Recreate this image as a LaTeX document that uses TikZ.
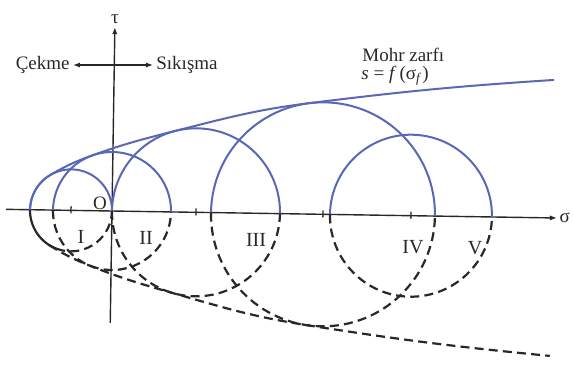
\documentclass[tikz,border=0pt]{standalone}
\usepackage{fontspec}
\setmainfont{Liberation Serif}
\usetikzlibrary{arrows.meta,calc}
\definecolor{mohrblue}{RGB}{88,104,180}
\definecolor{inkgray}{RGB}{40,40,40}
\begin{document}
\begin{tikzpicture}[
x=0.5pt,y=0.5pt,
font=\fontsize{9.5}{11}\selectfont,
every node/.style={text=inkgray},
axis/.style={draw=inkgray,line width=0.7pt},
arrowend/.style={-{Latex[length=3.5pt,width=2.6pt]}},
arrowboth/.style={{Latex[length=3.5pt,width=2.6pt]}-{Latex[length=3.5pt,width=2.6pt]}},
upperhalf/.style={draw=mohrblue,line width=1pt},
nosehalf/.style={draw=inkgray,line width=1.1pt},
lowerhalf/.style={draw=inkgray,line width=1.1pt,dash pattern=on 4.5pt off 2.6pt},
numeral/.style={inner sep=0pt,font=\fontsize{10}{12}\selectfont},]
\useasboundingbox (-112,-154) rectangle (461,211);
\begin{scope}[rotate=-0.9]
% axes
\coordinate (O) at (0,0);
\coordinate (sleft) at (-106,0);
\coordinate (sright) at (445,0);
\coordinate (tbot) at (0,-112);
\coordinate (ttop) at (0,184);
\draw[axis,arrowend] (sleft) -- (sright) node[right=1pt,inner sep=0pt] (sigma) {σ};
\draw[axis,arrowend] (tbot) -- (ttop) node[above=1.5pt,inner sep=0pt] (tau) {τ};
\draw[axis] (-41,-3) -- (-41,4);
\draw[axis] (84,-3) -- (84,4);
\draw[axis] (211,-3) -- (211,4);
\draw[axis] (299,-3) -- (299,4);
% circle I
\draw[upperhalf] (0,0) arc[start angle=0,end angle=180,radius=41];
\draw[nosehalf] (-82,0) arc[start angle=180,end angle=250,radius=41];
\draw[lowerhalf] ($(-41,0)+(250:41)$) arc[start angle=250,end angle=360,radius=41];
% circle II
\draw[upperhalf] (59,0) arc[start angle=0,end angle=180,radius=59];
\draw[lowerhalf] (-59,0) arc[start angle=180,end angle=360,radius=59];
% circle III
\draw[upperhalf] (168,0) arc[start angle=0,end angle=180,radius=84];
\draw[lowerhalf] (0,0) arc[start angle=180,end angle=360,radius=84];
% circle IV
\draw[upperhalf] (323,0) arc[start angle=0,end angle=180,radius=112];
\draw[lowerhalf] (99,0) arc[start angle=180,end angle=360,radius=112];
% circle V
\draw[upperhalf] (380,0) arc[start angle=0,end angle=180,radius=81];
\draw[lowerhalf] (218,0) arc[start angle=180,end angle=360,radius=81];
% envelope
\coordinate (e1) at ($(-41,0)+(121:41)$);
\coordinate (e2) at (110.8:59);
\coordinate (e3) at ($(84,0)+(105.1:84)$);
\coordinate (e4) at ($(211,0)+(98:112)$);
\coordinate (e5) at (440,138);
\coordinate (f1) at ($(-41,0)+(-121:41)$);
\coordinate (f2) at (-110.8:59);
\coordinate (f3) at ($(84,0)+(-105.1:84)$);
\coordinate (f4) at ($(211,0)+(-98:112)$);
\coordinate (f5) at (440,-138);
\draw[upperhalf] (-82,0) arc[start angle=180,end angle=121,radius=41]
  to[out=31,in=200.8] (e2) to[out=20.8,in=195.1] (e3)
  to[out=15.1,in=188] (e4) to[out=8,in=184.6] (e5);
\draw[lowerhalf] (f1) to[out=-31,in=159.2] (f2) to[out=-20.8,in=164.9] (f3)
  to[out=-15.1,in=172] (f4) to[out=-8,in=175.4] (f5);
\end{scope}
% labels
\node[inner sep=0pt] (origin) at (-12,8) {O};
\node[numeral] (nI) at (-31,-26) {I};
\node[numeral] (nII) at (34,-27) {II};
\node[numeral] (nIII) at (144,-29) {III};
\node[numeral] (nIV) at (301,-36) {IV};
\node[numeral] (nV) at (363,-37) {V};
\node[anchor=east,inner sep=1.5pt] (cekme) at (-39,146) {Çekme};
\node[anchor=west,inner sep=1.5pt] (sikisma) at (41,146) {Sıkışma};
\draw[axis,arrowboth] (cekme) -- (sikisma);
\node[anchor=base west,inner sep=0pt] (zarf) at (250,150) {Mohr zarfı};
\node[anchor=base west,inner sep=0pt] (zarfeq) at (249,132)
  {\textit{s} = \textit{f}\,(σ\textsubscript{\textit{f}})};
\end{tikzpicture}
\end{document}
